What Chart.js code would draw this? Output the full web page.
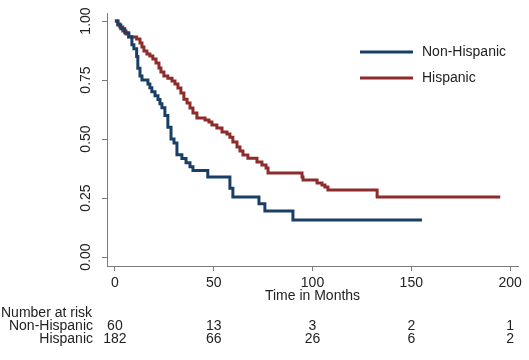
<!DOCTYPE html>
<html>
<head>
<meta charset="utf-8">
<script src="https://cdn.jsdelivr.net/npm/chart.js@4.4.1/dist/chart.umd.min.js"></script>
<style>
  html, body { margin: 0; padding: 0; background: #fff; }
  #wrap { width: 529px; height: 360px; }
</style>
</head>
<body>
<div id="wrap"><canvas id="myChart"></canvas></div>
<script>
// Kaplan-Meier estimates (months, survival)
const nhTime = [0, 1.5, 3, 5, 7, 8.6, 9.6, 11, 11.6, 12.7, 13.7, 16.7, 17.7, 18.7, 20.3, 21.8, 22.8, 23.8, 25.3, 26.8,
                28.4, 29.9, 31.4, 33.9, 36, 38, 39.5, 47, 58.2, 59.7, 72.9, 75.9, 90.1, 155.4];
const nhSurv = [1, 0.983, 0.967, 0.95, 0.933, 0.9, 0.883, 0.85, 0.8, 0.767, 0.75, 0.733, 0.717, 0.7, 0.683, 0.667, 0.65, 0.633, 0.6, 0.55,
                0.5, 0.483, 0.433, 0.417, 0.4, 0.383, 0.367, 0.339, 0.291, 0.254, 0.226, 0.195, 0.157, 0.157];

const hTime = [0, 1.5, 2.5, 4, 5.6, 7, 11, 12.7, 13.7, 14.7, 16.2, 17.7, 19.2, 20.8, 22.3, 23.3, 24.8, 26.8, 28.9, 30.4,
               31.9, 33.4, 34.9, 36.5, 38, 39.5, 41.5, 45.6, 47.6, 49.1, 51.6, 54.2, 56.7, 58.2, 59.7, 61.8, 63.3, 64.8, 67.3,
               71.9, 74.4, 76.5, 77.5, 94.7, 95.2, 102.3, 104.8, 106.3, 107.8, 132.7, 195];
const hSurv = [1, 0.987, 0.975, 0.958, 0.945, 0.932, 0.924, 0.907, 0.89, 0.873, 0.86, 0.852, 0.839, 0.822, 0.801, 0.784, 0.767, 0.758, 0.746, 0.733,
               0.716, 0.695, 0.669, 0.653, 0.631, 0.61, 0.589, 0.581, 0.572, 0.559, 0.547, 0.53, 0.521, 0.508, 0.487, 0.466, 0.449, 0.432, 0.419,
               0.403, 0.39, 0.377, 0.356, 0.339, 0.326, 0.314, 0.305, 0.297, 0.284, 0.254, 0.254];

const xTicks = [0, 50, 100, 150, 200];
const yTicks = [0, 0.25, 0.5, 0.75, 1];

// number at risk table
const riskTimes = [0, 50, 100, 150, 200];
const nhRisk = [60, 13, 3, 2, 1];
const hRisk = [182, 66, 26, 6, 2];

const FONT = '"Liberation Sans", Arial, sans-serif';
const axisColor = '#7a7a7a';
const textColor = '#222';

function toPoints(t, s) {
    return t.map((v, i) => ({ x: v, y: s[i] }));
}

// legend inside the plot + the number-at-risk table under the axis
const extras = {
    id: 'extras',
    afterDraw(chart) {
        const ctx = chart.ctx;
        const area = chart.chartArea;
        const xs = chart.scales.x;
        ctx.save();
        ctx.font = '14px ' + FONT;
        ctx.fillStyle = textColor;
        ctx.textBaseline = 'middle';

        chart.data.datasets.forEach((ds, i) => {
            const ly = area.top + 39 + i * 26;
            const lx = area.right - 158;
            ctx.strokeStyle = ds.borderColor;
            ctx.lineWidth = 3;
            ctx.beginPath();
            ctx.moveTo(lx, ly);
            ctx.lineTo(lx + 53, ly);
            ctx.stroke();
            ctx.textAlign = 'left';
            ctx.fillText(ds.label, lx + 62, ly);
        });

        ctx.textAlign = 'left';
        ctx.fillText('Number at risk', 1, area.bottom + 47);
        const rows = [['Non-Hispanic', nhRisk], ['Hispanic', hRisk]];
        rows.forEach((row, r) => {
            const y = area.bottom + 60 + r * 13;
            ctx.textAlign = 'right';
            ctx.fillText(row[0], area.left - 14, y);
            ctx.textAlign = 'center';
            row[1].forEach((n, i) => {
                ctx.fillText(String(n), xs.getPixelForValue(riskTimes[i]), y);
            });
        });
        ctx.restore();
    }
};

const ctx = document.getElementById('myChart').getContext('2d');
const myChart = new Chart(ctx, {
    type: 'line',
    data: {
        datasets: [
            {
                label: 'Non-Hispanic',
                data: toPoints(nhTime, nhSurv),
                borderColor: '#1a3f66',
                borderWidth: 3,
                pointRadius: 0,
                stepped: true,
                fill: false,
                borderJoinStyle: 'miter',
                borderCapStyle: 'butt'
            },
            {
                label: 'Hispanic',
                data: toPoints(hTime, hSurv),
                borderColor: '#8e2b2b',
                borderWidth: 3,
                pointRadius: 0,
                stepped: true,
                fill: false,
                borderJoinStyle: 'miter',
                borderCapStyle: 'butt'
            }
        ]
    },
    options: {
        responsive: true,
        maintainAspectRatio: false,
        animation: false,
        layout: { padding: { left: 0, top: 13, right: 11, bottom: 0 } },
        plugins: {
            legend: { display: false },
            tooltip: { enabled: false }
        },
        scales: {
            x: {
                type: 'linear',
                min: -4,
                max: 204,
                afterBuildTicks: s => { s.ticks = xTicks.map(v => ({ value: v })); },
                afterFit: s => { s.height = 94; },
                grid: { drawOnChartArea: false, drawTicks: true, tickLength: 5, color: axisColor },
                border: { display: true, color: axisColor, width: 1 },
                ticks: {
                    color: textColor,
                    font: { family: FONT, size: 14 },
                    padding: 4,
                    maxRotation: 0,
                    autoSkip: false
                },
                title: {
                    display: true,
                    text: 'Time in Months',
                    color: textColor,
                    font: { family: FONT, size: 14 },
                    padding: { top: 0, bottom: 55 }
                }
            },
            y: {
                type: 'linear',
                min: -0.038,
                max: 1.034,
                afterBuildTicks: s => { s.ticks = yTicks.map(v => ({ value: v })); },
                afterFit: s => { s.width = 107; },
                grid: { drawOnChartArea: false, drawTicks: true, tickLength: 5, color: axisColor },
                border: { display: true, color: axisColor, width: 1 },
                ticks: {
                    color: textColor,
                    font: { family: FONT, size: 14 },
                    minRotation: 90,
                    maxRotation: 90,
                    crossAlign: 'center',
                    padding: 2,
                    autoSkip: false,
                    callback: v => v.toFixed(2)
                }
            }
        }
    },
    plugins: [extras]
});
</script>
</body>
</html>
